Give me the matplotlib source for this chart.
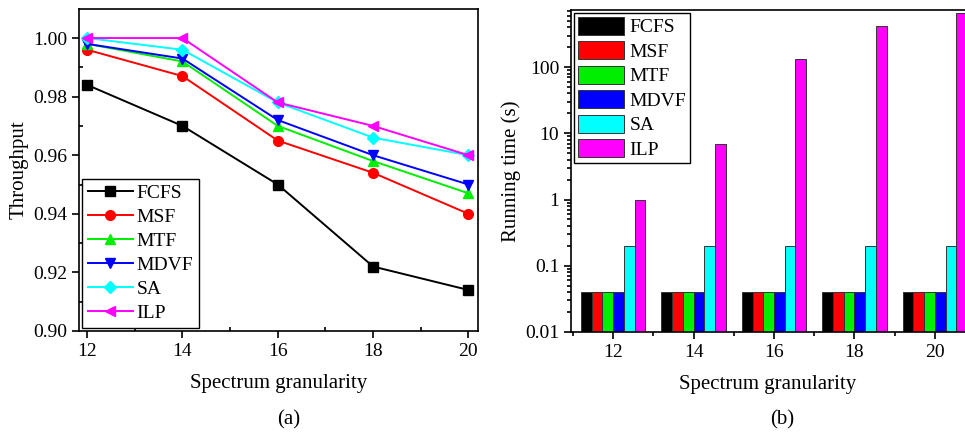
import matplotlib.pyplot as plt
import numpy as np
from matplotlib.ticker import MultipleLocator, FixedLocator, LogLocator, NullFormatter

plt.rcParams['font.family'] = ['Liberation Serif', 'DejaVu Serif']
plt.rcParams['font.size'] = 14

granularity = [12, 14, 16, 18, 20]
algorithms = ['FCFS', 'MSF', 'MTF', 'MDVF', 'SA', 'ILP']
colors = ['#000000', '#ff0000', '#00ee00', '#0000ff', '#00ffff', '#ff00ff']
markers = ['s', 'o', '^', 'v', 'D', '<']

# throughput per algorithm
fcfs_thr = [0.984, 0.970, 0.950, 0.922, 0.914]
msf_thr = [0.996, 0.987, 0.965, 0.954, 0.940]
mtf_thr = [0.998, 0.992, 0.970, 0.958, 0.947]
mdvf_thr = [0.998, 0.993, 0.972, 0.960, 0.950]
sa_thr = [1.000, 0.996, 0.978, 0.966, 0.960]
ilp_thr = [1.000, 1.000, 0.978, 0.970, 0.960]
throughput = [fcfs_thr, msf_thr, mtf_thr, mdvf_thr, sa_thr, ilp_thr]

# running time (s) per algorithm
fcfs_time = [0.04, 0.04, 0.04, 0.04, 0.04]
msf_time = [0.04, 0.04, 0.04, 0.04, 0.04]
mtf_time = [0.04, 0.04, 0.04, 0.04, 0.04]
mdvf_time = [0.04, 0.04, 0.04, 0.04, 0.04]
sa_time = [0.2, 0.2, 0.2, 0.2, 0.2]
ilp_time = [1.0, 6.8, 132, 415, 660]
run_time = [fcfs_time, msf_time, mtf_time, mdvf_time, sa_time, ilp_time]

fig = plt.figure(figsize=(9.65, 4.32), dpi=100)

# ---- (a) throughput ----
ax1 = fig.add_axes([0.0819, 0.2338, 0.4134, 0.7453])
for i in range(len(algorithms)):
    ax1.plot(granularity, throughput[i], color=colors[i], marker=markers[i],
             markersize=7 if markers[i] != 'D' else 6, linewidth=1.4,
             label=algorithms[i])
ax1.set_xlim(11.83, 20.2)
ax1.set_ylim(0.90, 1.0099)
ax1.xaxis.set_major_locator(FixedLocator(granularity))
ax1.xaxis.set_minor_locator(MultipleLocator(1))
ax1.yaxis.set_major_locator(MultipleLocator(0.02))
ax1.yaxis.set_minor_locator(MultipleLocator(0.01))
ax1.yaxis.set_major_formatter(plt.FormatStrFormatter('%.2f'))
ax1.tick_params(which='major', direction='out', length=5, width=1.2, labelsize=14)
ax1.tick_params(which='minor', direction='in', length=3, width=1.2)
for s in ax1.spines.values():
    s.set_linewidth(1.2)
ax1.set_xlabel('Spectrum granularity', labelpad=10, fontsize=15)
ax1.set_ylabel('Throughput', labelpad=3, fontsize=15)
ax1.legend(loc='lower left', bbox_to_anchor=(0.0, 0.0), fancybox=False,
           edgecolor='black', framealpha=1, handlelength=2.3,
           labelspacing=0.33, borderpad=0.3, borderaxespad=0.15,
           handletextpad=0.2, fontsize=14).get_frame().set_linewidth(1.0)
fig.text(0.2995, 0.005, '(a)', ha='center', va='bottom', fontsize=15)

# ---- (b) running time ----
ax2 = fig.add_axes([0.5917, 0.2315, 0.4083, 0.7454])
n = len(algorithms)
bw = 0.267
x = np.array(granularity, dtype=float)
for i in range(n):
    ax2.bar(x + (i - (n - 1) / 2) * bw, run_time[i], width=bw, color=colors[i],
            edgecolor='#333333', linewidth=0.7, label=algorithms[i])
ax2.set_yscale('log')
ax2.set_ylim(0.01, 730)
ax2.set_xlim(10.95, 20.75)
ax2.set_yticks([0.01, 0.1, 1, 10, 100])
ax2.set_yticklabels(['0.01', '0.1', '1', '10', '100'])
ax2.yaxis.set_minor_locator(LogLocator(base=10, subs=np.arange(2, 10)))
ax2.yaxis.set_minor_formatter(NullFormatter())
ax2.xaxis.set_major_locator(FixedLocator(granularity))
ax2.xaxis.set_minor_locator(FixedLocator([11, 13, 15, 17, 19]))
ax2.tick_params(which='major', direction='out', length=5, width=1.2, labelsize=14)
ax2.tick_params(which='minor', direction='out', length=3, width=1.2)
ax2.spines['right'].set_visible(False)
for s in ax2.spines.values():
    s.set_linewidth(1.2)
ax2.set_xlabel('Spectrum granularity', labelpad=10, fontsize=15)
ax2.set_ylabel('Running time (s)', labelpad=3, fontsize=15)
ax2.legend(loc='upper left', fancybox=False, edgecolor='black', framealpha=1,
           handlelength=2.4, handleheight=1.05, labelspacing=0.25,
           borderpad=0.2, borderaxespad=0.15, handletextpad=0.25,
           fontsize=14).get_frame().set_linewidth(1.0)
fig.text(0.8104, 0.005, '(b)', ha='center', va='bottom', fontsize=15)

fig.savefig('out.png', dpi=100)
